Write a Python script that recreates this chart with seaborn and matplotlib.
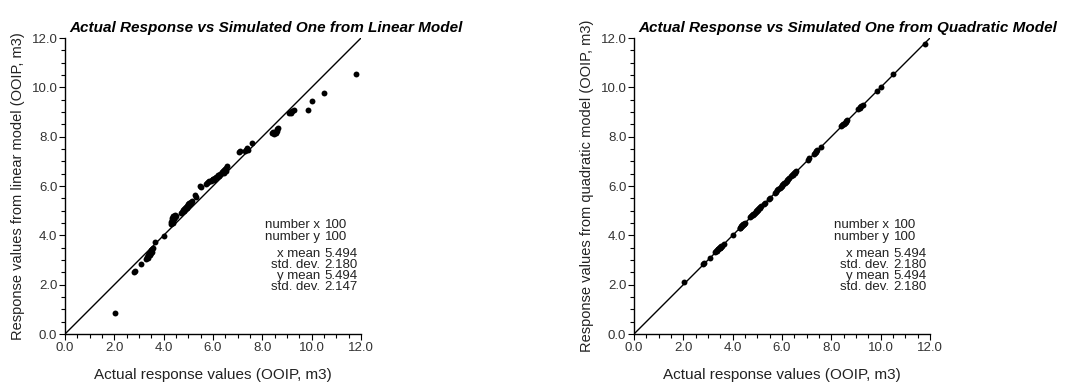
import matplotlib
matplotlib.use("Agg")
import matplotlib.pyplot as plt
import seaborn as sns
import pandas as pd
from matplotlib.ticker import MultipleLocator, FormatStrFormatter

# ---------------- data ----------------
x_actual = [
    2.04,
    2.80, 2.83,
    3.07,
    3.30, 3.34, 3.37, 3.38, 3.40, 3.42, 3.45, 3.47, 3.48, 3.50, 3.52, 3.53, 3.56,
    3.63,
    4.00,
    4.28, 4.30, 4.33, 4.34, 4.36, 4.38, 4.41, 4.42, 4.44, 4.47, 4.50,
    4.72, 4.76, 4.80, 4.82, 4.84, 4.87, 4.90, 4.93, 4.95, 4.97, 5.00, 5.02, 5.04, 5.08, 5.10, 5.12, 5.16,
    5.27, 5.30,
    5.46, 5.50,
    5.70, 5.75, 5.80, 5.85, 5.90, 5.95, 6.00, 6.02, 6.05, 6.10, 6.12, 6.15, 6.20, 6.22, 6.25, 6.30,
    6.38, 6.42, 6.44, 6.46, 6.50, 6.52, 6.54, 6.58,
    7.04, 7.10,
    7.28, 7.33, 7.36, 7.38, 7.42,
    7.58,
    8.40, 8.45, 8.48, 8.50, 8.55, 8.58, 8.60, 8.64,
    9.10, 9.15, 9.18, 9.22, 9.28,
    9.85,
    10.02,
    10.52,
    11.80,
]

y_linear = [
    0.85,
    2.51, 2.56,
    2.85,
    3.05, 3.12, 3.20, 3.08, 3.25, 3.30, 3.22, 3.35, 3.28, 3.40, 3.33, 3.45, 3.50,
    3.74,
    3.96,
    4.45, 4.55, 4.62, 4.70, 4.78, 4.50, 4.80, 4.66, 4.82, 4.75, 4.80,
    4.90, 4.95, 5.02, 4.98, 5.08, 5.12, 5.15, 5.20, 5.10, 5.25, 5.28, 5.22, 5.32, 5.30, 5.36, 5.33, 5.38,
    5.63, 5.55,
    6.00, 5.95,
    6.08, 6.12, 6.15, 6.20, 6.22, 6.25, 6.28, 6.30, 6.26, 6.33, 6.38, 6.36, 6.42, 6.45, 6.40, 6.48,
    6.55, 6.60, 6.52, 6.65, 6.70, 6.62, 6.75, 6.80,
    7.39, 7.40,
    7.42, 7.45, 7.50, 7.55, 7.48,
    7.73,
    8.15, 8.18, 8.12, 8.20, 8.16, 8.25, 8.30, 8.34,
    8.95, 9.02, 8.98, 9.05, 9.08,
    9.08,
    9.45,
    9.79,
    10.56,
]

y_quadratic = [
    2.10,
    2.85, 2.86,
    3.10,
    3.32, 3.35, 3.40, 3.38, 3.43, 3.44, 3.47, 3.50, 3.49, 3.52, 3.54, 3.55, 3.58,
    3.64,
    4.02,
    4.30, 4.31, 4.35, 4.36, 4.38, 4.40, 4.42, 4.44, 4.45, 4.48, 4.52,
    4.74, 4.78, 4.81, 4.84, 4.85, 4.88, 4.92, 4.94, 4.97, 4.98, 5.02, 5.03, 5.06, 5.10, 5.12, 5.13, 5.18,
    5.29, 5.31,
    5.48, 5.51,
    5.71, 5.77, 5.82, 5.87, 5.92, 5.96, 6.02, 6.03, 6.07, 6.12, 6.13, 6.17, 6.22, 6.23, 6.27, 6.31,
    6.40, 6.44, 6.45, 6.48, 6.52, 6.53, 6.56, 6.60,
    7.05, 7.12,
    7.30, 7.35, 7.37, 7.40, 7.44,
    7.60,
    8.42, 8.46, 8.50, 8.52, 8.57, 8.60, 8.62, 8.66,
    9.12, 9.16, 9.20, 9.24, 9.30,
    9.84,
    10.02,
    10.53,
    11.75,
]

diagonal = [0.0, 12.0]

stat_labels = ["number x", "number y", "x mean", "std. dev.", "y mean", "std. dev."]
stat_values_linear = ["100", "100", "5.494", "2.180", "5.494", "2.147"]
stat_values_quadratic = ["100", "100", "5.494", "2.180", "5.494", "2.180"]

titles = ["Actual Response vs Simulated One from Linear Model",
          "Actual Response vs Simulated One from Quadratic Model"]
xlabel = "Actual response values (OOIP, m3)"
ylabels = ["Response values from linear model (OOIP, m3)",
           "Response values from quadratic model (OOIP, m3)"]

# ---------------- styling ----------------
sns.set_theme(style="ticks")
plt.rcParams["font.family"] = ["Liberation Sans", "DejaVu Sans"]
plt.rcParams["text.color"] = "#111111"

fig = plt.figure(figsize=(10.76, 3.86), dpi=100)
ax1 = fig.add_axes([0.0604, 0.1347, 0.2751, 0.7668])
ax2 = fig.add_axes([0.5892, 0.1347, 0.2751, 0.7668])

df_lin = pd.DataFrame({"actual": x_actual, "sim": y_linear})
df_quad = pd.DataFrame({"actual": x_actual, "sim": y_quadratic})
df_diag = pd.DataFrame({"a": diagonal, "b": diagonal})

row_y = [4.40, 3.95, 3.25, 2.80, 2.35, 1.92]

for ax, df, title, ylabel, vals in [
    (ax1, df_lin, titles[0], ylabels[0], stat_values_linear),
    (ax2, df_quad, titles[1], ylabels[1], stat_values_quadratic),
]:
    sns.lineplot(data=df_diag, x="a", y="b", ax=ax, color="black", linewidth=1.0)
    sns.scatterplot(data=df, x="actual", y="sim", ax=ax, color="black",
                    s=18, linewidth=0, zorder=3)
    ax.set_xlim(0, 12)
    ax.set_ylim(0, 12)
    for axis in (ax.xaxis, ax.yaxis):
        axis.set_major_locator(MultipleLocator(2))
        axis.set_minor_locator(MultipleLocator(0.5))
        axis.set_major_formatter(FormatStrFormatter("%.1f"))
    ax.tick_params(which="major", direction="out", length=4, width=0.8,
                   labelsize=9.5, pad=1.5, color="black", labelcolor="#333333")
    ax.tick_params(which="minor", direction="out", length=3, width=0.8, color="black")
    sns.despine(ax=ax)
    for sp in ("left", "bottom"):
        ax.spines[sp].set_color("black")
        ax.spines[sp].set_linewidth(1.0)
    ax.set_xlabel(xlabel, fontsize=11, labelpad=10, color="#222222")
    ax.set_ylabel(ylabel, fontsize=10.5, labelpad=5, color="#222222")
    ax.text(0.015, 1.02, title, transform=ax.transAxes, ha="left", va="baseline",
            fontsize=11, fontweight="bold", fontstyle="italic", color="black")
    for lab, val, yy in zip(stat_labels, vals, row_y):
        ax.text(10.35, yy, lab, ha="right", va="center", fontsize=9.5, color="#222222")
        ax.text(10.52, yy, val, ha="left", va="center", fontsize=9.5, color="#222222")

fig.savefig("out.png", dpi=100, facecolor="white")
